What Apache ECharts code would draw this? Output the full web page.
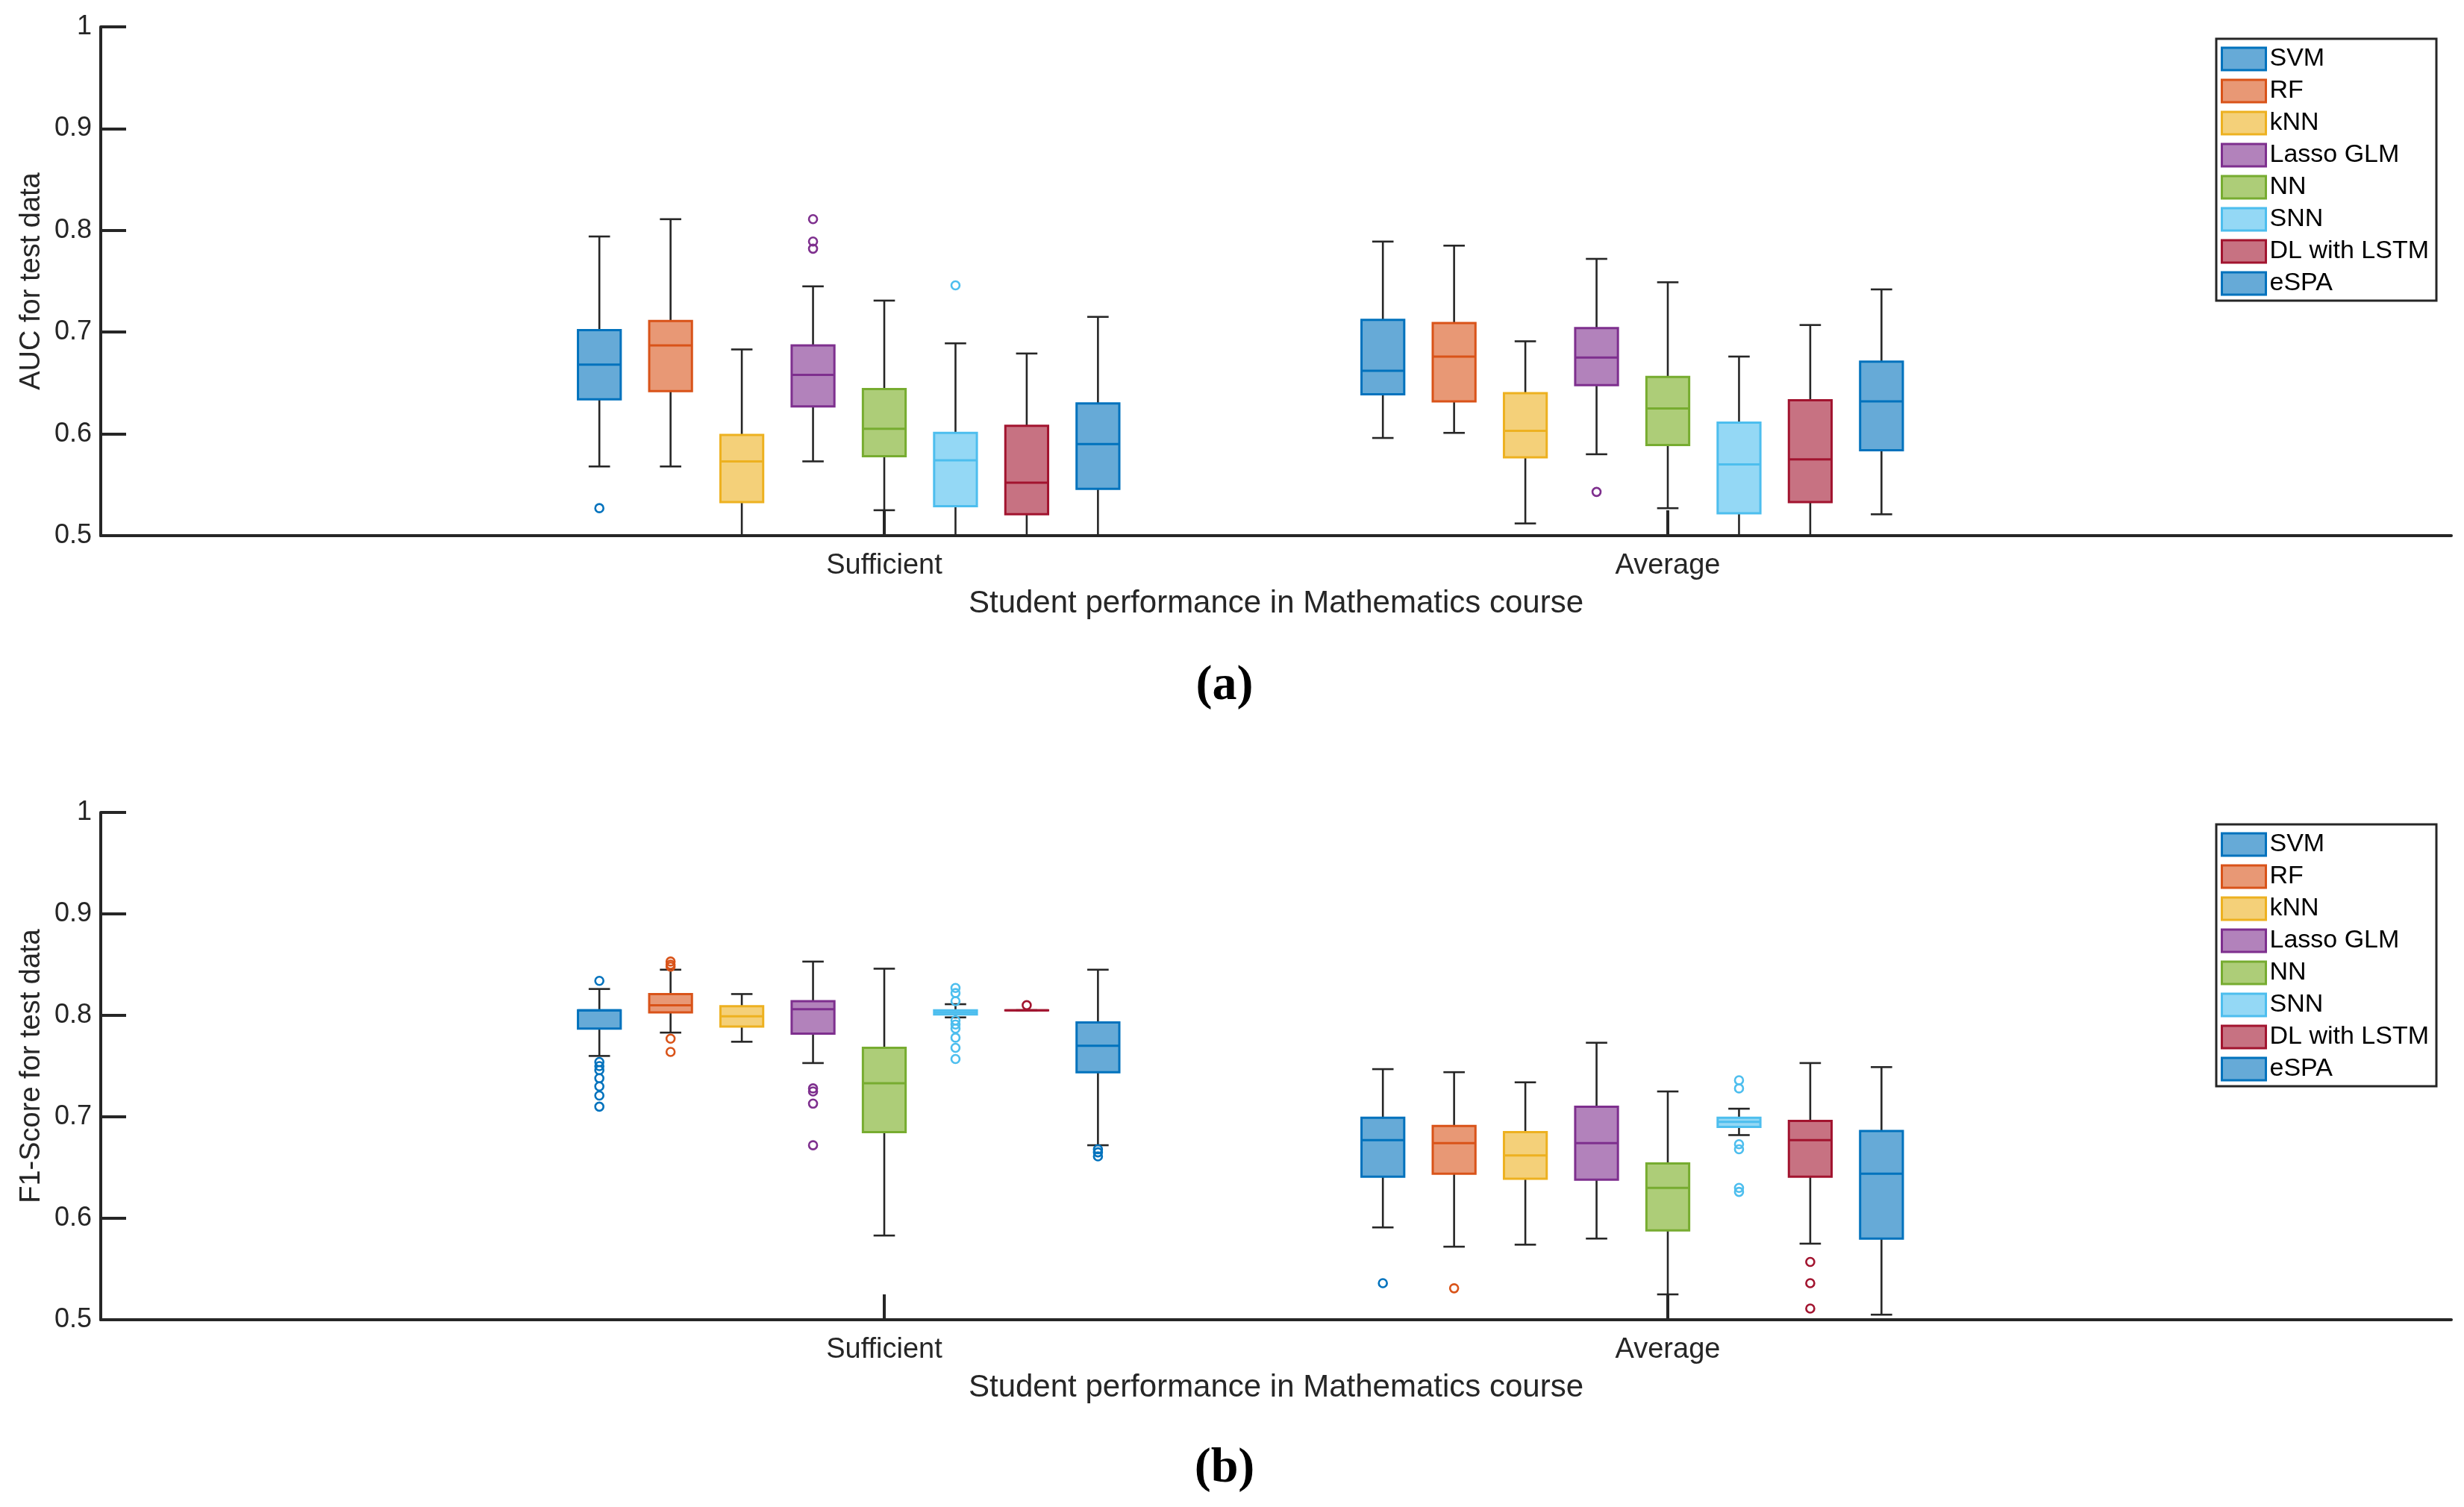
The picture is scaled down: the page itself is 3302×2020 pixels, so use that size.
<!DOCTYPE html>
<html><head><meta charset="utf-8">
<script src="https://cdn.jsdelivr.net/npm/echarts@6/dist/echarts.min.js"></script>
<style>html,body{margin:0;padding:0;background:#fff}#c{width:3302px;height:2020px}</style>
</head><body><div id="c"></div>
<script>
// ---------------- data ----------------
const groups = ['Sufficient', 'Average'];
const algorithms = ['SVM', 'RF', 'kNN', 'Lasso GLM', 'NN', 'SNN', 'DL with LSTM', 'eSPA'];
const yTickLabels = ['0.5', '0.6', '0.7', '0.8', '0.9', '1'];
const panelLabels = ['(a)', '(b)'];
const yTitles = ['AUC for test data', 'F1-Score for test data'];
const xTitle = 'Student performance in Mathematics course';

// AUC — each entry: [lower whisker, Q1, median, Q3, upper whisker] for [Sufficient, Average]
const aucSVM   = [[0.568, 0.634, 0.668, 0.702, 0.794], [0.596, 0.639, 0.662, 0.712, 0.789]];
const aucRF    = [[0.568, 0.642, 0.687, 0.711, 0.811], [0.601, 0.632, 0.676, 0.709, 0.785]];
const aucKNN   = [[0.470, 0.533, 0.573, 0.599, 0.683], [0.512, 0.577, 0.603, 0.640, 0.691]];
const aucLasso = [[0.573, 0.627, 0.658, 0.687, 0.745], [0.580, 0.648, 0.675, 0.704, 0.772]];
const aucNN    = [[0.525, 0.578, 0.605, 0.644, 0.731], [0.527, 0.589, 0.625, 0.656, 0.749]];
const aucSNN   = [[0.470, 0.529, 0.574, 0.601, 0.689], [0.470, 0.522, 0.570, 0.611, 0.676]];
const aucDL    = [[0.470, 0.521, 0.552, 0.608, 0.679], [0.470, 0.533, 0.575, 0.633, 0.707]];
const aucESPA  = [[0.480, 0.546, 0.590, 0.630, 0.715], [0.521, 0.584, 0.632, 0.671, 0.742]];
// AUC outliers [Sufficient, Average]
const aucOutSVM   = [[0.527], []];
const aucOutRF    = [[], []];
const aucOutKNN   = [[], []];
const aucOutLasso = [[0.811, 0.789, 0.782], [0.543]];
const aucOutNN    = [[], []];
const aucOutSNN   = [[0.746], []];
const aucOutDL    = [[], []];
const aucOutESPA  = [[], []];

// F1-Score
const f1SVM   = [[0.760, 0.787, 0.805, 0.805, 0.826], [0.591, 0.641, 0.677, 0.699, 0.747]];
const f1RF    = [[0.783, 0.803, 0.810, 0.821, 0.845], [0.572, 0.644, 0.674, 0.691, 0.744]];
const f1KNN   = [[0.774, 0.789, 0.799, 0.809, 0.821], [0.574, 0.639, 0.662, 0.685, 0.734]];
const f1Lasso = [[0.753, 0.782, 0.806, 0.814, 0.853], [0.580, 0.638, 0.674, 0.710, 0.773]];
const f1NN    = [[0.583, 0.685, 0.733, 0.768, 0.846], [0.525, 0.588, 0.630, 0.654, 0.725]];
const f1SNN   = [[0.798, 0.801, 0.803, 0.805, 0.811], [0.682, 0.690, 0.695, 0.699, 0.708]];
const f1DL    = [[0.805, 0.805, 0.805, 0.805, 0.805], [0.575, 0.641, 0.677, 0.696, 0.753]];
const f1ESPA  = [[0.672, 0.744, 0.770, 0.793, 0.845], [0.505, 0.580, 0.644, 0.686, 0.749]];
// F1 outliers
const f1OutSVM   = [[0.834, 0.754, 0.750, 0.746, 0.738, 0.730, 0.721, 0.710], [0.536]];
const f1OutRF    = [[0.853, 0.850, 0.848, 0.777, 0.764], [0.531]];
const f1OutKNN   = [[], []];
const f1OutLasso = [[0.728, 0.725, 0.713, 0.672], []];
const f1OutNN    = [[], []];
const f1OutSNN   = [[0.827, 0.822, 0.814, 0.795, 0.791, 0.787, 0.778, 0.768, 0.757], [0.736, 0.728, 0.673, 0.668, 0.630, 0.626]];
const f1OutDL    = [[0.810], [0.557, 0.536, 0.511]];
const f1OutESPA  = [[0.668, 0.665, 0.661], []];

// ---------------- styling ----------------
const edgeColors = ['#0072BD', '#D95319', '#EDB120', '#7E2F8E', '#77AC30', '#4DBEEE', '#A2142F', '#0072BD'];
const faceColors = ['#66AAD7', '#E89875', '#F4D079', '#B282BB', '#ADCD78', '#94D8F5', '#C77282', '#66AAD7'];
const FONT = '"Liberation Sans", Arial, Helvetica, sans-serif';
const INK = '#262626';
const Y_MIN = 0.5, Y_MAX = 1;
const BOX_W = 0.6 / 11;       // box width in x-axis units
const STEP = 1 / 11;          // spacing between boxes in x-axis units

const panels = [
  { stats: [aucSVM, aucRF, aucKNN, aucLasso, aucNN, aucSNN, aucDL, aucESPA],
    outs:  [aucOutSVM, aucOutRF, aucOutKNN, aucOutLasso, aucOutNN, aucOutSNN, aucOutDL, aucOutESPA] },
  { stats: [f1SVM, f1RF, f1KNN, f1Lasso, f1NN, f1SNN, f1DL, f1ESPA],
    outs:  [f1OutSVM, f1OutRF, f1OutKNN, f1OutLasso, f1OutNN, f1OutSNN, f1OutDL, f1OutESPA] }
];

function boxX(g, k) { return (g + 1) + (k - 4) * STEP; }

function makeRender(edge, face) {
  return function (params, api) {
    const x = api.value(0);
    const v = [1, 2, 3, 4, 5].map(i => api.value(i));
    const c = val => api.coord([x, Math.max(val, Y_MIN)]);
    const pLo = c(v[0]), pQ1 = c(v[1]), pMed = c(v[2]), pQ3 = c(v[3]), pHi = c(v[4]);
    const cx = pMed[0];
    const half = api.size([BOX_W, 0])[0] / 2;
    const capHalf = half / 2;
    const ws = { stroke: INK, lineWidth: 2.6, fill: null };
    const ch = [];
    ch.push({ type: 'line', shape: { x1: cx, y1: pQ1[1], x2: cx, y2: pLo[1] }, style: ws });
    ch.push({ type: 'line', shape: { x1: cx, y1: pQ3[1], x2: cx, y2: pHi[1] }, style: ws });
    if (v[0] >= Y_MIN) ch.push({ type: 'line', shape: { x1: cx - capHalf, y1: pLo[1], x2: cx + capHalf, y2: pLo[1] }, style: ws });
    ch.push({ type: 'line', shape: { x1: cx - capHalf, y1: pHi[1], x2: cx + capHalf, y2: pHi[1] }, style: ws });
    ch.push({ type: 'rect', shape: { x: cx - half, y: pQ3[1], width: 2 * half, height: Math.max(pQ1[1] - pQ3[1], 0.01) },
              style: { fill: face, stroke: edge, lineWidth: 3 } });
    ch.push({ type: 'line', shape: { x1: cx - half, y1: pMed[1], x2: cx + half, y2: pMed[1] },
              style: { stroke: edge, lineWidth: 3 } });
    return { type: 'group', children: ch };
  };
}

const gridTops = [36, 1089];
const gridHeights = [682, 680];
const grids = [], xAxes = [], yAxes = [], series = [], legends = [], graphics = [];

panels.forEach((p, pi) => {
  grids.push({ left: 135, right: 17, top: gridTops[pi], height: gridHeights[pi], containLabel: false });
  xAxes.push({
    type: 'value', gridIndex: pi, min: 0, max: 3,
    axisLine: { show: true, onZero: false, lineStyle: { color: INK, width: 4 } },
    axisTick: { show: true, inside: true, length: 34, customValues: [1, 2], lineStyle: { color: INK, width: 4 } },
    axisLabel: { show: true, customValues: [1, 2], formatter: v => groups[Math.round(v) - 1] || '',
                 fontSize: 38, color: INK, fontFamily: FONT, margin: 22 },
    splitLine: { show: false },
    name: xTitle, nameLocation: 'middle', nameGap: 70,
    nameTextStyle: { fontSize: 42, color: INK, fontFamily: FONT }
  });
  yAxes.push({
    type: 'value', gridIndex: pi, min: Y_MIN, max: Y_MAX, interval: 0.1,
    axisLine: { show: true, lineStyle: { color: INK, width: 4 } },
    axisTick: { show: true, inside: true, length: 34, lineStyle: { color: INK, width: 4 } },
    axisLabel: { formatter: v => yTickLabels[Math.round((v - Y_MIN) * 10)], fontSize: 36, color: INK,
                 fontFamily: FONT, margin: 12 },
    splitLine: { show: false },
    name: yTitles[pi], nameLocation: 'middle', nameGap: 73,
    nameTextStyle: { fontSize: 38, color: INK, fontFamily: FONT }
  });
  algorithms.forEach((name, k) => {
    const data = p.stats[k].map((s, g) => [boxX(g, k)].concat(s));
    series.push({
      type: 'custom', name, xAxisIndex: pi, yAxisIndex: pi,
      renderItem: makeRender(edgeColors[k], faceColors[k]),
      encode: { x: 0, y: [1, 2, 3, 4, 5] },
      itemStyle: { color: faceColors[k], borderColor: edgeColors[k] },
      data, silent: true, animation: false, z: 2
    });
    const od = [];
    p.outs[k].forEach((arr, g) => arr.forEach(val => od.push([boxX(g, k), val])));
    series.push({
      type: 'scatter', name, xAxisIndex: pi, yAxisIndex: pi,
      symbol: 'circle', symbolSize: 11,
      itemStyle: { color: 'rgba(255,255,255,0)', borderColor: edgeColors[k], borderWidth: 2.6, opacity: 1 },
      data: od, silent: true, animation: false, z: 3
    });
  });
  legends.push({
    left: 2970, top: gridTops[pi] + 16, orient: 'vertical',
    data: algorithms.map((n, k) => ({ name: n, icon: 'rect',
      itemStyle: { color: faceColors[k], borderColor: edgeColors[k], borderWidth: 3 } })),
    itemWidth: 59, itemHeight: 30, itemGap: 3,
    textStyle: { fontSize: 34, color: '#000', fontFamily: FONT, lineHeight: 40 },
    backgroundColor: '#fff', borderColor: INK, borderWidth: 3, borderRadius: 0,
    padding: [7, 10, 3, 6], selectedMode: false
  });
  graphics.push({
    type: 'text', x: 1641, y: [920, 1969][pi],
    style: { text: panelLabels[pi], textAlign: 'center', textVerticalAlign: 'middle',
             font: 'bold 66px "Liberation Serif", "DejaVu Serif", serif', fill: '#000' }
  });
});

const chart = echarts.init(document.getElementById('c'), null, { renderer: 'canvas' });
chart.setOption({
  backgroundColor: '#fff',
  animation: false,
  grid: grids, xAxis: xAxes, yAxis: yAxes,
  legend: legends, series, graphic: graphics
});
</script>
</body></html>
